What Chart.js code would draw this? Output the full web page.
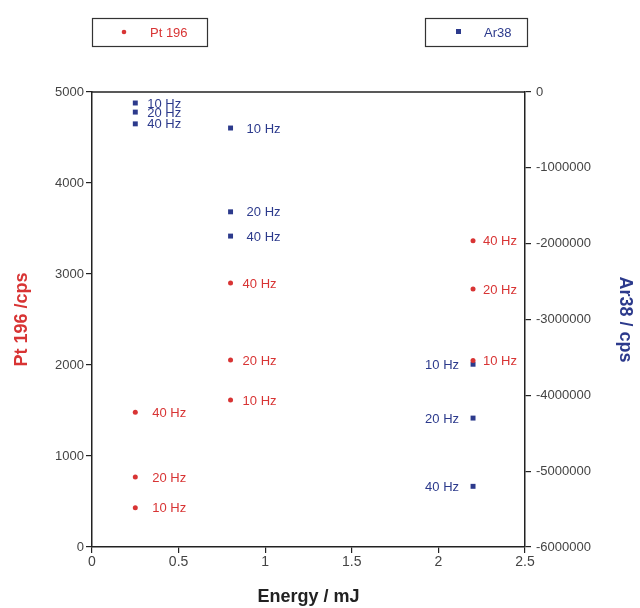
<!DOCTYPE html>
<html>
<head>
<meta charset="utf-8">
<script src="https://cdn.jsdelivr.net/npm/chart.js@4/dist/chart.umd.min.js"></script>
<style>
html,body{margin:0;padding:0;background:#fff;}
#wrap{width:640px;height:608px;position:relative;}
</style>
</head>
<body>
<div id="wrap"><canvas id="c" width="640" height="608"></canvas></div>
<script>
// ---- data ----
const energy = [0.25, 0.25, 0.25, 0.8, 0.8, 0.8, 2.2, 2.2, 2.2];
const freqLabels = ['10 Hz', '20 Hz', '40 Hz', '10 Hz', '20 Hz', '40 Hz', '10 Hz', '20 Hz', '40 Hz'];
const pt196 = [430, 770, 1480, 1615, 2055, 2900, 2050, 2835, 3365];
const ar38 = [-145000, -265000, -420000, -475000, -1580000, -1900000, -3590000, -4300000, -5200000];
const xTicks = [0, 0.5, 1, 1.5, 2, 2.5];
const leftTicks = [0, 1000, 2000, 3000, 4000, 5000];
const rightTicks = [-6000000, -5000000, -4000000, -3000000, -2000000, -1000000, 0];

const RED = '#d83434';
const BLUE = '#2c3a8c';
const FONT = "'Liberation Sans', Arial, sans-serif";

// label placement (styling, not data)
const redGap = [17, 17, 17, 12, 12, 12, 10, 10, 10];
const blueGap = [12, 12, 12, 16, 16, 16, -14, -14, -14];

const labelPlugin = {
  id: 'pointLabels',
  afterDatasetsDraw(chart) {
    const ctx = chart.ctx;
    ctx.save();
    ctx.font = '13px ' + FONT;
    ctx.textBaseline = 'middle';
    chart.data.datasets.forEach((ds, di) => {
      const meta = chart.getDatasetMeta(di);
      const gaps = di === 0 ? redGap : blueGap;
      ctx.fillStyle = di === 0 ? RED : BLUE;
      meta.data.forEach((el, i) => {
        const g = gaps[i];
        ctx.textAlign = g < 0 ? 'right' : 'left';
        ctx.fillText(freqLabels[i], el.x + g, el.y + 1);
      });
    });
    ctx.restore();
  }
};

const framePlugin = {
  id: 'frame',
  afterDraw(chart) {
    const ctx = chart.ctx;
    const a = chart.chartArea;
    ctx.save();
    ctx.strokeStyle = '#222';
    ctx.lineWidth = 1.5;
    ctx.beginPath();
    ctx.moveTo(a.left, a.top);
    ctx.lineTo(a.right, a.top);
    ctx.stroke();
    // legend boxes
    ctx.lineWidth = 1.2;
    ctx.strokeStyle = '#333';
    ctx.strokeRect(92.5, 18.5, 115, 28);
    ctx.strokeRect(425.5, 18.5, 102, 28);
    ctx.fillStyle = RED;
    ctx.beginPath(); ctx.arc(124, 32, 2.3, 0, Math.PI * 2); ctx.fill();
    ctx.font = '13px ' + FONT;
    ctx.textBaseline = 'middle';
    ctx.textAlign = 'left';
    ctx.fillText('Pt 196', 150, 33);
    ctx.fillStyle = BLUE;
    ctx.fillRect(456, 29, 5, 5);
    ctx.fillText('Ar38', 484, 33);
    ctx.restore();
  }
};

new Chart(document.getElementById('c'), {
  type: 'scatter',
  data: {
    datasets: [
      {
        label: 'Pt 196',
        data: energy.map((x, i) => ({x: x, y: pt196[i]})),
        yAxisID: 'y',
        pointStyle: 'circle',
        pointRadius: 2.5,
        backgroundColor: RED,
        borderColor: RED,
        borderWidth: 0
      },
      {
        label: 'Ar38',
        data: energy.map((x, i) => ({x: x, y: ar38[i]})),
        yAxisID: 'y2',
        pointStyle: 'rect',
        pointRadius: 3.5,
        backgroundColor: BLUE,
        borderColor: BLUE,
        borderWidth: 0
      }
    ]
  },
  options: {
    responsive: false,
    animation: false,
    layout: {padding: {top: 92, left: 0, right: 0, bottom: 0}},
    plugins: {legend: {display: false}, tooltip: {enabled: false}},
    scales: {
      x: {
        type: 'linear',
        min: 0, max: 2.5,
        afterBuildTicks: s => { s.ticks = xTicks.map(v => ({value: v})); },
        afterFit: s => { s.height = 61; },
        grid: {drawOnChartArea: false, drawTicks: true, tickLength: 6, color: '#222', lineWidth: 1.2},
        border: {display: true, color: '#222', width: 1.5},
        ticks: {color: '#444', font: {family: FONT, size: 14}, padding: 1, callback: v => String(v)},
        title: {display: true, text: 'Energy / mJ', color: '#222', font: {family: FONT, size: 18, weight: 'bold'}, padding: {top: 0, bottom: 0}}
      },
      y: {
        type: 'linear', position: 'left',
        min: 0, max: 5000,
        afterBuildTicks: s => { s.ticks = leftTicks.map(v => ({value: v})); },
        afterFit: s => { s.width = 92; },
        grid: {drawOnChartArea: false, drawTicks: true, tickLength: 6, color: '#222', lineWidth: 1.2},
        border: {display: true, color: '#222', width: 1.5},
        ticks: {color: '#444', font: {family: FONT, size: 13}, padding: 2, callback: v => String(v)},
        title: {display: true, text: 'Pt 196 /cps', color: RED, font: {family: FONT, size: 18, weight: 'bold'}, padding: {top: 11, bottom: 0}}
      },
      y2: {
        type: 'linear', position: 'right',
        min: -6000000, max: 0,
        afterBuildTicks: s => { s.ticks = rightTicks.map(v => ({value: v})); },
        afterFit: s => { s.width = 115; },
        grid: {drawOnChartArea: false, drawTicks: true, tickLength: 6, color: '#222', lineWidth: 1.2},
        border: {display: true, color: '#222', width: 1.5},
        ticks: {color: '#444', font: {family: FONT, size: 13}, padding: 5, callback: v => String(v)},
        title: {display: true, text: 'Ar38 / cps', color: BLUE, font: {family: FONT, size: 18, weight: 'bold'}, padding: {top: 4, bottom: 0}}
      }
    }
  },
  plugins: [labelPlugin, framePlugin]
});
</script>
</body>
</html>
